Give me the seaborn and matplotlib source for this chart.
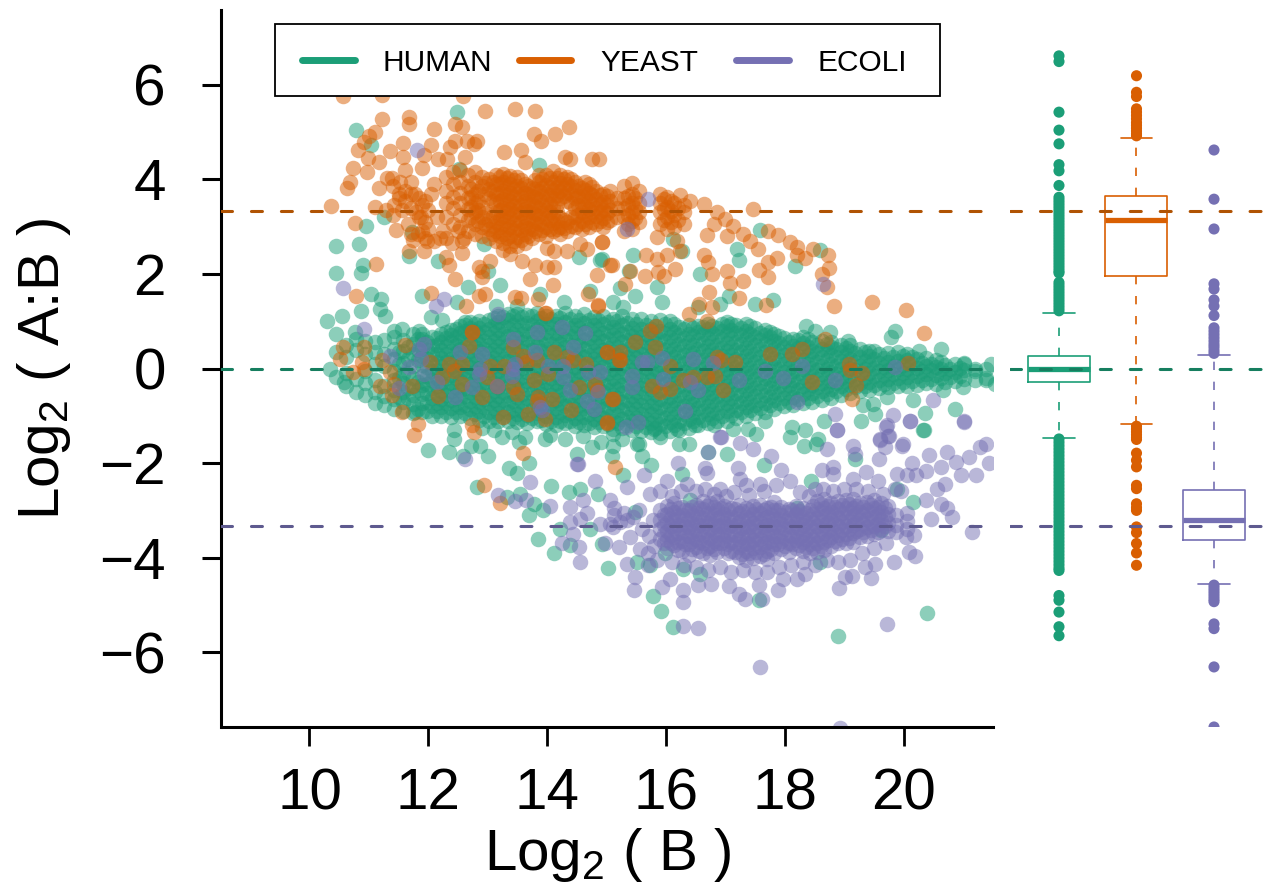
import matplotlib
matplotlib.use("Agg")
import matplotlib.pyplot as plt
from matplotlib.lines import Line2D
from matplotlib.patches import Rectangle
import seaborn as sns
import pandas as pd

GRUPOS = ["HUMAN", "YEAST", "ECOLI"]
CORES = ["#1B9E77", "#D95F02", "#7570B3"]
CORES_LINHA = ["#167E5F", "#B05303", "#5E5A8F"]

# expected log ratios (dashed lines)
razoes = [0, 3.32, -3.32]

# dense clouds: x value -> y values read at that x
human_core = {
    10.62: [-.36, -.1, .25, .5],
    10.78: [-.5, -.22, .4, .62],
    10.94: [-.55, -.3, -.05, .3, .58],
    11.1: [-.72, -.5, -.25, .1, .35, .55],
    11.26: [-.78, -.58, -.36, .05, .3, .6],
    11.42: [-.85, -.65, -.45, -.25, -.05, .2, .42, .66],
    11.58: [-.9, -.7, -.5, -.3, -.12, .12, .36, .6],
    11.74: [-.95, -.75, -.56, -.38, -.2, .05, .3, .52, .72],
    11.9: [-.92, -.72, -.54, -.34, -.16, .08, .26, .44, .62, .74],
    12.06: [-1.0, -.8, -.62, -.42, -.24, -.06, .12, .3, .48, .66],
    12.22: [-1.0, -.82, -.64, -.47, -.3, -.12, .05, .22, .4, .57, .72],
    12.38: [-1.02, -.84, -.66, -.48, -.3, -.13, .04, .21, .38, .55, .7, .82],
    12.54: [-1.0, -.82, -.63, -.45, -.27, -.1, .08, .25, .42, .58, .75, .9],
    12.7: [-1.05, -.86, -.68, -.5, -.32, -.14, .03, .2, .37, .54, .7, .86, .98],
    12.86: [-1.08, -.9, -.7, -.52, -.34, -.16, .02, .18, .36, .52, .7, .86, 1.0],
    13.02: [-1.1, -.92, -.74, -.56, -.38, -.2, -.03, .15, .32, .5, .66, .83, 1.02],
    13.18: [-1.12, -.94, -.76, -.58, -.4, -.22, -.05, .12, .3, .47, .64, .81, .98, 1.1],
    13.34: [-1.1, -.92, -.74, -.55, -.38, -.2, -.02, .16, .33, .5, .68, .85, 1.02, 1.15],
    13.5: [-1.14, -.96, -.78, -.6, -.42, -.24, -.06, .12, .3, .47, .64, .82, 1.0, 1.15],
    13.66: [-1.16, -.98, -.8, -.62, -.44, -.26, -.08, .1, .27, .45, .62, .8, .97, 1.14],
    13.82: [-1.12, -.94, -.76, -.58, -.4, -.22, -.04, .14, .31, .48, .66, .83, 1.0, 1.18],
    13.98: [-1.18, -1.0, -.82, -.64, -.46, -.28, -.1, .08, .25, .42, .6, .78, .95, 1.12],
    14.14: [-1.2, -1.02, -.84, -.66, -.48, -.3, -.12, .06, .24, .41, .58, .76, .94, 1.12],
    14.3: [-1.16, -.98, -.8, -.62, -.44, -.26, -.08, .1, .27, .45, .63, .8, .98, 1.18],
    14.46: [-1.22, -1.04, -.86, -.68, -.5, -.32, -.14, .04, .22, .4, .57, .75, .93, 1.1],
    14.62: [-1.2, -1.02, -.84, -.66, -.48, -.3, -.12, .06, .24, .42, .6, .78, .96, 1.16],
    14.78: [-1.24, -1.06, -.88, -.7, -.52, -.34, -.16, .02, .2, .38, .56, .74, .92, 1.08],
    14.94: [-1.22, -1.04, -.86, -.68, -.5, -.32, -.14, .04, .22, .4, .58, .76, .94, 1.12],
    15.1: [-1.28, -1.1, -.92, -.74, -.56, -.38, -.2, -.02, .16, .34, .52, .7, .88, 1.05],
    15.26: [-1.25, -1.06, -.88, -.7, -.52, -.34, -.16, .02, .2, .38, .56, .74, .92, 1.1],
    15.42: [-1.3, -1.12, -.94, -.76, -.58, -.4, -.22, -.04, .14, .32, .5, .68, .86, 1.04],
    15.58: [-1.32, -1.14, -.96, -.78, -.6, -.42, -.24, -.06, .12, .3, .48, .66, .84, 1.05],
    15.74: [-1.34, -1.15, -.97, -.79, -.61, -.43, -.25, -.07, .11, .29, .47, .65, .83, 1.0],
    15.9: [-1.36, -1.18, -1.0, -.82, -.64, -.46, -.28, -.1, .08, .26, .44, .62, .8, 1.02],
    16.06: [-1.32, -1.14, -.96, -.78, -.6, -.42, -.24, -.06, .12, .3, .48, .66, .84, 1.0],
    16.22: [-1.3, -1.1, -.92, -.74, -.56, -.38, -.2, -.02, .16, .34, .52, .7, .88],
    16.38: [-1.25, -1.06, -.88, -.7, -.52, -.34, -.16, .02, .2, .38, .56, .74, .92],
    16.54: [-1.2, -1.02, -.84, -.66, -.48, -.3, -.12, .06, .24, .42, .6, .78, .9],
    16.7: [-1.15, -.97, -.79, -.61, -.43, -.25, -.07, .11, .29, .47, .65, .83, .95],
    16.86: [-1.12, -.94, -.76, -.58, -.4, -.22, -.04, .14, .32, .5, .68, .86],
    17.02: [-1.1, -.9, -.72, -.54, -.36, -.18, 0, .18, .36, .54, .72, .9, .98],
    17.18: [-1.05, -.87, -.69, -.51, -.33, -.15, .03, .21, .39, .57, .75, .92],
    17.34: [-1.0, -.82, -.64, -.46, -.28, -.1, .08, .26, .44, .62, .8, .95],
    17.5: [-.95, -.77, -.59, -.41, -.23, -.05, .13, .31, .49, .67, .85],
    17.66: [-.92, -.74, -.56, -.38, -.2, -.02, .16, .34, .52, .7, .82],
    17.82: [-.85, -.67, -.49, -.31, -.13, .05, .23, .41, .59, .72],
    17.98: [-.8, -.62, -.44, -.26, -.08, .1, .28, .46, .64],
    18.14: [-.78, -.6, -.42, -.24, -.06, .12, .3, .48, .62],
    18.3: [-.72, -.54, -.36, -.18, 0, .18, .36, .54, .66],
    18.46: [-.7, -.52, -.34, -.16, .02, .2, .38, .56],
    18.62: [-.66, -.48, -.3, -.12, .06, .24, .42, .58],
    18.78: [-.62, -.44, -.26, -.08, .1, .28, .46, .56],
    18.94: [-.56, -.38, -.2, -.02, .16, .34, .5],
    19.1: [-.52, -.34, -.16, .02, .2, .38, .5],
    19.26: [-.48, -.3, -.12, .06, .24, .42],
    19.42: [-.46, -.28, -.1, .08, .26, .38],
    19.58: [-.42, -.24, -.06, .12, .3],
    19.74: [-.4, -.22, -.04, .14, .32],
    19.9: [-.38, -.2, -.02, .16, .34],
    20.06: [-.36, -.18, 0, .18, .3],
    20.22: [-.34, -.16, .02, .2],
    20.38: [-.3, -.12, .06, .22],
    20.54: [-.32, -.14, .04, .18],
    20.7: [-.28, -.1, .08],
    20.86: [-.26, -.08, .1],
    21.02: [-.22, -.04, .12],
    21.2: [-.24, -.06],
    21.38: [-.2, -.02],
}

# second pass over the band, between the columns above
human_core2 = {
    11.5: [-.6, -.2, .1, .35],
    11.66: [-.62, -.42, -.1, .2, .45],
    11.82: [-.85, -.46, -.28, .18, .4, .62],
    11.98: [-.9, -.7, -.52, -.33, -.15, .03, .21, .39, .57],
    12.14: [-.9, -.72, -.53, -.38, -.21, -.03, .14, .31, .49, .64],
    12.3: [-.92, -.74, -.56, -.38, -.21, -.04, .13, .3, .47, .64, .78],
    12.46: [-.93, -.75, -.57, -.39, -.21, -.03, .15, .33, .5, .67, .83],
    12.62: [-.95, -.77, -.59, -.41, -.23, -.05, .12, .29, .46, .63, .8, .93],
    12.78: [-.97, -.79, -.61, -.43, -.25, -.07, .11, .28, .45, .62, .79, .95],
    12.94: [-1.0, -.82, -.64, -.46, -.28, -.1, .08, .25, .42, .59, .77, .94],
    13.1: [-1.02, -.84, -.66, -.48, -.3, -.12, .05, .22, .4, .58, .75, .92, 1.06],
    13.26: [-1.03, -.85, -.67, -.49, -.31, -.13, .04, .21, .39, .56, .73, .9, 1.08],
    13.42: [-1.05, -.87, -.69, -.51, -.33, -.15, .03, .2, .38, .56, .74, .92, 1.1],
    13.58: [-1.07, -.89, -.71, -.53, -.35, -.17, .01, .19, .37, .55, .73, .91, 1.08],
    13.74: [-1.05, -.87, -.69, -.51, -.33, -.15, .03, .21, .39, .57, .75, .93, 1.1],
    13.9: [-1.08, -.9, -.72, -.54, -.36, -.18, 0, .18, .36, .54, .72, .9, 1.07],
    14.06: [-1.1, -.92, -.74, -.56, -.38, -.2, -.02, .16, .34, .52, .7, .88, 1.05],
    14.22: [-1.1, -.92, -.74, -.56, -.38, -.2, -.02, .16, .34, .52, .7, .88, 1.06],
    14.38: [-1.12, -.94, -.76, -.58, -.4, -.22, -.04, .14, .32, .5, .68, .86, 1.04],
    14.54: [-1.13, -.95, -.77, -.59, -.41, -.23, -.05, .13, .31, .49, .67, .85, 1.03],
    14.7: [-1.15, -.97, -.79, -.61, -.43, -.25, -.07, .11, .29, .47, .65, .83, 1.02],
    14.86: [-1.14, -.96, -.78, -.6, -.42, -.24, -.06, .12, .3, .48, .66, .84, 1.02],
    15.02: [-1.18, -1.0, -.82, -.64, -.46, -.28, -.1, .08, .26, .44, .62, .8, .98],
    15.18: [-1.16, -.98, -.8, -.62, -.44, -.26, -.08, .1, .28, .46, .64, .82, 1.0],
    15.34: [-1.2, -1.02, -.84, -.66, -.48, -.3, -.12, .06, .24, .42, .6, .78, .96],
    15.5: [-1.22, -1.04, -.86, -.68, -.5, -.32, -.14, .04, .22, .4, .58, .76, .94],
    15.66: [-1.24, -1.06, -.88, -.7, -.52, -.34, -.16, .02, .2, .38, .56, .74, .92],
    15.82: [-1.26, -1.08, -.9, -.72, -.54, -.36, -.18, 0, .18, .36, .54, .72, .9],
    15.98: [-1.22, -1.04, -.86, -.68, -.5, -.32, -.14, .04, .22, .4, .58, .76, .94],
    16.14: [-1.2, -1.02, -.84, -.66, -.48, -.3, -.12, .06, .24, .42, .6, .78, .95],
    16.3: [-1.15, -.97, -.79, -.61, -.43, -.25, -.07, .11, .29, .47, .65, .83],
    16.46: [-1.12, -.94, -.76, -.58, -.4, -.22, -.04, .14, .32, .5, .68, .85],
    16.62: [-1.08, -.9, -.72, -.54, -.36, -.18, 0, .18, .36, .54, .72, .88],
    16.78: [-1.05, -.87, -.69, -.51, -.33, -.15, .03, .21, .39, .57, .75, .9],
    16.94: [-1.0, -.82, -.64, -.46, -.28, -.1, .08, .26, .44, .62, .8, .94],
    17.1: [-.98, -.8, -.62, -.44, -.26, -.08, .1, .28, .46, .64, .82, .95],
    17.26: [-.92, -.74, -.56, -.38, -.2, -.02, .16, .34, .52, .7, .86],
    17.42: [-.88, -.7, -.52, -.34, -.16, .02, .2, .38, .56, .74, .9],
    17.58: [-.84, -.66, -.48, -.3, -.12, .06, .24, .42, .6, .76],
    17.74: [-.78, -.6, -.42, -.24, -.06, .12, .3, .48, .66, .78],
    17.9: [-.72, -.54, -.36, -.18, 0, .18, .36, .54, .68],
    18.06: [-.7, -.52, -.34, -.16, .02, .2, .38, .56],
    18.22: [-.64, -.46, -.28, -.1, .08, .26, .44, .6],
    18.38: [-.62, -.44, -.26, -.08, .1, .28, .46, .62],
    18.54: [-.58, -.4, -.22, -.04, .14, .32, .5],
    18.7: [-.54, -.36, -.18, 0, .18, .36, .52],
    18.86: [-.48, -.3, -.12, .06, .24, .42],
    19.02: [-.44, -.26, -.08, .1, .28, .44],
    19.18: [-.4, -.22, -.04, .14, .32],
    19.34: [-.38, -.2, -.02, .16, .34],
    19.5: [-.34, -.16, .02, .2, .36],
    19.66: [-.32, -.14, .04, .22],
    19.82: [-.3, -.12, .06, .24],
    19.98: [-.28, -.1, .08, .26],
    20.14: [-.26, -.08, .1, .24],
    20.3: [-.24, -.06, .12],
    20.46: [-.22, -.04, .1],
    20.62: [-.2, -.02, .14],
    20.78: [-.18, 0],
    20.94: [-.16, .02],
}

# loose human points away from the band
human_x = [10.79, 12.48, 11.04, 13.87, 12.51, 10.95, 11.25, 10.44, 10.84, 10.9, 10.86, 10.45, 11.68, 11.73, 12.17,
           12.93, 14.53, 14.88, 13.01, 12.67, 13.2, 11.04, 11.21, 11.18, 11.27, 10.87, 10.55, 10.29, 11.9, 12.05,
           12.23, 12.48, 12.62, 13.13, 13.5, 13.88, 14.29, 14.72, 10.44, 10.77, 11.42, 11.56, 11.85, 15.45, 14.92,
           16.26, 16.12, 17.58, 17.19, 17.23, 18.17, 18.59, 16.57, 15.38, 15.23, 15.84, 15.48, 15.93, 15.11, 15.28,
           16.91, 17.05, 17.5, 17.8, 16.54, 18.36, 18.5, 18.76, 19.85, 19.79, 20.63, 20.26, 19.06, 21.02, 21.19,
           21.47, 21.39, 21.53, 20.66, 21.0, 20.16, 19.71, 20.86, 20.35, 20.32, 19.51, 19.28, 19.32, 19.48, 18.11,
           18.66, 18.34, 18.56, 16.8, 17.13, 17.38, 17.66, 17.52, 16.49, 16.18, 15.79, 15.11, 14.75, 14.5, 15.09,
           15.11, 15.51, 15.59, 15.74, 15.28, 14.36, 14.85, 14.55, 16.26, 16.71, 16.21, 16.39, 17.02, 17.64, 18.08,
           18.32, 18.53, 20.34, 19.17, 18.44, 19.88, 20.16, 14.72, 14.39, 14.92, 15.03, 15.51, 15.73, 15.78, 15.92,
           16.12, 15.98, 17.57, 18.9, 20.39, 15.48, 16.4, 18.2, 19.62, 16.29, 16.57, 18.59, 10.35, 10.44, 10.58,
           10.44, 11.78, 12.0, 12.34, 12.58, 12.71, 12.87, 13.0, 12.43, 12.43, 13.24, 13.52, 13.63, 13.97,
           13.35, 13.49, 13.7, 12.82, 13.33, 13.55, 13.77, 13.69, 13.93, 14.06, 14.21,
           13.84, 14.12, 14.05, 14.3, 14.6, 14.9, 15.25, 15.55, 15.9, 13.1, 13.4, 12.9]
human_y = [5.04, 5.42, 4.73, 4.3, 4.22, 3.01, 3.2, 2.6, 2.63, 2.19, 2.01, 2.01, 2.37, 2.88, 2.28,
           2.64, 2.35, 2.3, 2.07, 1.73, 1.77, 1.58, 1.47, 1.26, 1.12, 1.21, 1.1, 1.0, 1.54, 1.09,
           1.03, 1.4, .98, 1.33, 1.33, 1.58, 1.4, 1.63, .73, .77, .8, .84, .8, 2.41, 2.32,
           2.49, 2.74, 2.92, 2.53, 2.3, 2.16, 2.5, 2.0, 2.07, 1.7, 1.72, 1.54, 1.4, 1.4, 1.3,
           1.37, 1.54, 1.37, 1.44, 1.3, .9, .8, .77, .8, .66, .42, .38, .59, .1, 0,
           .1, -.25, -.32, -.46, -.39, -.66, -.6, -.85, -.94, -1.29, -.96, -1.1, -.78, -.75, -1.24,
           -1.11, -1.31, -1.49, -1.2, -1.27, -1.27, -1.1, -1.38, -1.2, -1.27, -1.27, -1.38, -1.66, -1.8, -1.84,
           -1.63, -1.59, -1.84, -2.05, -2.26, -2.61, -2.66, -2.54, -2.23, -1.77, -1.59, -1.59, -1.8, -2.05, -1.45,
           -1.63, -1.59, -1.29, -1.91, -2.37, -2.54, -2.82, -3.39, -3.74, -3.72, -4.22, -4.09, -4.16, -4.8, -5.13,
           -5.46, -3.9, -4.9, -5.66, -5.17, -3.03, -2.79, -2.96, -3.42, -4.23, -4.34, -4.09, 0, -.17, -.29,
           .35, -.91, -1.72, -1.77, -1.86, -1.63, -1.63, -1.86, -1.31, -1.49, -1.45, -1.56, -1.45, -1.49,
           -2.1, -2.21, -2.0, -2.51, -2.72, -2.65, -2.86, -3.1, -3.0, -2.49, -3.39,
           -3.61, -3.9, -1.4, -1.5, -1.42, -1.55, -1.5, -1.6, -1.45, -1.3, -1.35, -1.25]

yeast_core = {
    12.3: [3.2, 3.5, 3.75, 4.05],
    12.42: [3.05, 3.4, 3.62, 3.9, 4.15],
    12.54: [3.0, 3.25, 3.5, 3.72, 3.95, 4.2],
    12.66: [2.9, 3.15, 3.38, 3.6, 3.85, 4.1],
    12.78: [2.85, 3.05, 3.3, 3.5, 3.7, 3.95, 4.15],
    12.9: [2.8, 3.0, 3.2, 3.42, 3.85, 4.05],
    13.02: [2.75, 2.95, 3.15, 3.6, 3.8, 4.0],
    13.14: [2.7, 2.9, 3.1, 3.3, 3.5, 3.7, 3.9, 4.1],
    13.26: [2.65, 2.85, 3.05, 3.22, 3.4, 3.58, 3.76, 3.95, 4.12],
    13.38: [2.6, 2.8, 3.0, 3.2, 3.38, 3.55, 3.72, 3.9, 4.08],
    13.5: [2.6, 2.78, 2.98, 3.15, 3.32, 3.5, 3.68, 3.85, 4.05],
    13.62: [2.65, 2.85, 3.02, 3.2, 3.38, 3.55, 3.72, 3.9],
    13.74: [2.75, 2.95, 3.12, 3.3, 3.48, 3.65, 3.82],
    13.86: [2.85, 3.05, 3.22, 3.4, 3.58, 3.75, 3.95, 4.1],
    13.98: [2.8, 3.0, 3.18, 3.35, 3.52, 3.7, 3.88, 4.1],
    14.1: [2.9, 3.08, 3.25, 3.42, 3.6, 3.78, 3.95, 4.18],
    14.22: [2.85, 3.0, 3.18, 3.6, 3.75, 3.92, 4.1],
    14.34: [2.9, 3.1, 3.55, 3.72, 3.9, 4.05],
    14.46: [3.0, 3.2, 3.4, 3.6, 3.78, 3.95],
    14.58: [2.95, 3.12, 3.3, 3.48, 3.65, 3.82],
    14.7: [3.0, 3.2, 3.38, 3.55, 3.72, 3.9],
    14.82: [3.05, 3.22, 3.4, 3.58, 3.75],
    14.94: [3.0, 3.18, 3.35, 3.52, 3.7],
    15.06: [3.15, 3.35, 3.55, 3.75],
    15.3: [2.9, 3.2, 3.4, 3.6, 3.85],
    15.42: [2.95, 3.12, 3.3, 3.5, 3.7, 3.92],
    15.54: [3.1, 3.3, 3.5, 3.75],
    15.9: [3.05, 3.3, 3.5, 3.7],
    16.02: [2.95, 3.2, 3.42, 3.62],
    16.14: [3.0, 3.25, 3.5],
    16.3: [3.05, 3.3, 3.45],
}

yeast_core2 = {
    12.72: [3.2, 3.42, 3.62, 3.8],
    12.84: [3.12, 3.35, 3.55, 3.75],
    12.96: [3.05, 3.28, 3.7, 3.92],
    13.08: [2.85, 3.02, 3.22, 3.55, 3.75, 3.95],
    13.2: [2.8, 3.0, 3.18, 3.36, 3.54, 3.72, 3.9, 4.05],
    13.32: [2.75, 2.95, 3.12, 3.3, 3.48, 3.66, 3.84, 4.02],
    13.44: [2.7, 2.9, 3.08, 3.26, 3.44, 3.62, 3.8, 3.98],
    13.56: [2.72, 2.92, 3.1, 3.28, 3.46, 3.64, 3.82, 3.98],
    13.68: [2.8, 2.98, 3.16, 3.34, 3.52, 3.7, 3.86],
    13.8: [2.9, 3.08, 3.26, 3.44, 3.62, 3.8, 3.98],
    13.92: [2.92, 3.1, 3.28, 3.46, 3.64, 3.82, 4.0],
    14.04: [2.95, 3.13, 3.3, 3.48, 3.66, 3.84, 4.02],
    14.16: [2.95, 3.12, 3.3, 3.48, 3.66, 3.84, 4.02],
    14.28: [2.98, 3.14, 3.65, 3.82, 4.0],
    14.4: [3.02, 3.2, 3.5, 3.68, 3.85, 4.0],
    14.52: [3.05, 3.25, 3.45, 3.65, 3.85],
    14.64: [3.05, 3.25, 3.42, 3.6, 3.78, 3.95],
    14.76: [3.1, 3.3, 3.48, 3.66, 3.84],
    14.88: [3.12, 3.3, 3.48, 3.66],
    15.0: [3.1, 3.28, 3.46, 3.64],
    15.18: [3.2, 3.4, 3.6],
    15.36: [3.05, 3.25, 3.45, 3.65],
    15.48: [3.18, 3.4, 3.6],
    15.96: [3.15, 3.38, 3.58],
    16.08: [3.1, 3.32, 3.55],
    16.2: [3.15, 3.4],
}

yeast_x = [10.57, 11.22, 12.59, 12.95, 13.46, 13.8, 11.22, 11.67, 11.67, 12.1, 12.45, 12.57, 14.37, 14.13, 13.78, 13.89,
           11.11, 11.0, 10.92, 10.81, 10.98, 11.17, 11.35, 11.57, 11.57, 12.04, 11.92, 12.36, 12.45, 12.65, 12.76, 12.82,
           12.16, 12.31, 12.61, 13.28, 13.56, 13.62, 14.3, 14.39, 14.75, 14.87, 10.73, 10.97, 11.6, 11.89, 11.3, 11.39,
           10.69, 10.63, 11.17, 11.53, 11.7, 10.36, 11.1, 10.76, 11.46, 11.67, 11.12, 11.93, 12.3, 12.34, 12.57, 12.45,
           12.85, 12.9, 12.91, 13.03, 13.57, 13.8, 13.99, 14.12, 13.71, 14.09, 14.83, 15.06, 10.79, 12.04, 12.85, 12.96,
           13.46, 13.56, 13.85, 14.69, 14.85, 12.63, 13.98, 12.73, 11.98, 12.2, 12.57, 13.25, 13.37, 14.0, 14.11, 14.33,
           14.55, 14.67, 14.92, 11.6, 11.78, 11.95, 11.5, 11.28, 11.4, 11.85, 12.0, 11.65, 11.82,
           11.4, 11.5, 11.6, 11.7, 11.8, 11.88, 11.95, 11.55, 11.42, 11.7, 11.85, 11.9, 12.0, 12.05, 12.1, 12.15, 11.9,
           11.95, 12.1, 11.7, 11.75, 12.25, 12.3, 12.4, 12.6, 12.5,
           17.47, 16.23, 16.4, 16.63, 16.85, 16.99, 17.13, 17.3, 17.41, 17.55, 17.72, 17.89, 18.08, 18.2, 18.2, 18.34,
           18.48, 18.73, 18.74, 18.63, 18.7, 18.82, 19.46, 20.03, 20.34, 16.68, 16.8, 17.02, 16.63, 16.71, 16.77, 17.02,
           17.07, 17.29, 16.72, 17.23, 16.78, 16.55, 16.39, 16.68, 17.56, 17.72, 17.87, 17.72, 17.68, 15.65, 15.39, 15.09,
           15.31, 15.87, 15.97, 16.15, 15.67, 15.84, 16.01, 16.23, 16.18, 15.84, 14.92, 15.0, 15.23, 15.23, 15.47, 15.81,
           15.73, 15.83, 16.07, 15.76, 15.9, 16.07, 15.11, 15.0, 16.29, 16.46, 16.68, 16.82, 16.85, 16.93, 17.16, 16.96,
           17.75, 18.11, 18.28, 18.46, 18.67, 19.08, 19.09, 19.3, 19.2, 19.13, 20.07, 10.57, 10.52, 10.91, 10.88, 10.74,
           10.91, 11.19, 11.42, 11.73, 11.22, 11.6, 11.36, 11.39, 11.56, 11.82, 11.76, 12.03, 12.17, 12.34, 12.43, 12.23,
           12.57, 12.57, 12.73, 12.69, 12.9, 13.04, 13.27, 12.99, 13.15, 13.43, 13.6, 13.43, 13.49, 13.25, 12.73, 12.76,
           13.59, 12.93, 13.21, 13.67, 13.65, 13.83, 13.77, 13.85, 13.82, 13.97, 14.08, 14.02, 14.11, 14.33, 14.44, 14.66,
           14.54, 14.8, 14.83, 14.4, 15.0, 15.0, 15.09, 15.2, 15.14, 13.97, 14.85]
yeast_y = [5.77, 5.79, 5.77, 5.45, 5.49, 5.45, 5.27, 5.32, 5.17, 5.06, 5.18, 5.1, 5.11, 4.96, 4.96, 4.82,
           5.01, 4.92, 4.78, 4.63, 4.45, 4.37, 4.59, 4.76, 4.47, 4.73, 4.52, 4.68, 4.8, 4.8, 4.75, 4.82,
           4.43, 4.43, 4.48, 4.57, 4.62, 4.36, 4.47, 4.43, 4.43, 4.42, 4.24, 4.15, 4.2, 4.24, 4.03, 4.03,
           3.94, 3.82, 3.82, 3.94, 3.94, 3.44, 3.41, 3.08, 2.92, 2.49, 2.2, 2.48, 2.35, 2.18, 2.44, 1.9,
           2.14, 2.07, 1.93, 2.28, 2.27, 2.18, 2.14, 2.15, 1.9, 1.77, 1.98, 2.18, 1.54, 1.6, 1.54, 1.58,
           1.52, 1.49, 1.47, 1.58, 1.35, 1.32, 1.18, .77, 2.7, 2.76, 2.7, 2.5, 2.42, 2.55, 2.48, 2.48,
           2.63, 2.52, 2.67, 3.75, 3.7, 3.55, 3.6, 3.35, 3.25, 3.2, 2.95, 3.05, 2.85,
           3.85, 3.7, 3.55, 3.4, 3.3, 3.2, 3.1, 3.35, 3.45, 3.7, 3.6, 3.45, 3.35, 3.7, 3.9, 3.2, 2.9,
           2.75, 2.7, 2.85, 2.72, 2.9, 2.75, 2.65, 2.75, 2.9,
           3.37, 3.66, 3.55, 3.48, 3.3, 3.16, 3.02, 2.85, 2.7, 2.53, 2.9, 2.83, 2.68, 2.56, 2.39, 2.34,
           2.53, 2.39, 2.13, 2.0, 1.73, 1.33, 1.4, 1.23, .75, 2.83, 3.06, 2.81, 2.41, 2.25, 2.0, 2.06,
           1.8, 1.86, 1.61, 1.49, 1.31, 1.37, 1.15, 1.0, 2.09, 2.26, 2.34, 1.93, 1.35, 1.96, 2.06, 2.18,
           1.79, 2.04, 1.96, 2.11, 2.39, 2.32, 2.39, 2.49, 2.7, 2.78, 2.67, .35, .35, .17, .56, .45,
           .8, .89, .05, -.36, -.5, -.43, -.64, -1.13, -.25, -.18, -.18, -.15, .24, .17, .13, -.45,
           .31, .31, .42, -.29, .63, .1, -.03, -.1, -.34, -.64, .12, .45, .2, .45, .13, -.08,
           -.01, -.37, -.32, -.36, .18, .5, -.08, -.57, -.92, -1.17, -1.4, .13, -.58, .1, -.06, -.18,
           .1, -.32, .77, .47, -.6, .06, .06, -.18, -.38, .45, .27, -.39, -.54, -1.03, -1.2, -1.35,
           -1.79, -2.47, -2.84, -.96, .13, .17, -.25, -.61, -.68, -1.06, -.64, -.11, .35, .24, .17, .1,
           -.39, -.32, -.46, -.87, .35, -1.15, -.64, .17, -2.08, 1.17, 1.33]

ecoli_core = {
    15.9: [-3.0, -3.2, -3.4, -3.6],
    16.02: [-2.9, -3.08, -3.26, -3.44, -3.62, -3.8],
    16.14: [-2.85, -3.03, -3.2, -3.38, -3.56, -3.74],
    16.26: [-2.92, -3.1, -3.28, -3.46, -3.64, -3.85],
    16.38: [-3.0, -3.18, -3.36, -3.54, -3.72, -3.95],
    16.5: [-2.88, -3.06, -3.24, -3.42, -3.6, -3.78],
    16.62: [-2.8, -2.98, -3.16, -3.34, -3.52, -3.7, -3.9],
    16.74: [-2.85, -3.05, -3.22, -3.4, -3.58, -3.76, -3.95],
    16.86: [-2.8, -2.98, -3.16, -3.34, -3.52, -3.7, -3.88],
    16.98: [-2.9, -3.08, -3.26, -3.44, -3.62, -3.8],
    17.1: [-2.95, -3.13, -3.31, -3.49, -3.67, -3.85],
    17.22: [-2.88, -3.06, -3.24, -3.42, -3.6, -3.78, -3.98],
    17.34: [-2.95, -3.14, -3.32, -3.5, -3.68, -3.86, -4.05],
    17.46: [-2.9, -3.08, -3.26, -3.44, -3.62, -3.8, -4.0],
    17.58: [-2.88, -3.06, -3.24, -3.42, -3.6, -3.78, -3.96],
    17.7: [-2.95, -3.13, -3.31, -3.49, -3.67, -3.85, -4.02],
    17.82: [-2.82, -3.0, -3.18, -3.36, -3.54, -3.72, -3.9],
    17.94: [-2.92, -3.1, -3.28, -3.46, -3.64, -3.82],
    18.06: [-2.98, -3.16, -3.34, -3.52, -3.7, -3.88],
    18.18: [-2.9, -3.08, -3.26, -3.44, -3.62, -3.8],
    18.3: [-2.95, -3.13, -3.31, -3.49, -3.67, -3.85],
    18.42: [-3.0, -3.18, -3.36, -3.54, -3.72, -3.9],
    18.54: [-2.8, -2.98, -3.16, -3.34, -3.52, -3.7, -3.88],
    18.66: [-2.76, -2.94, -3.12, -3.3, -3.48, -3.66, -3.84],
    18.78: [-2.85, -3.03, -3.21, -3.39, -3.57, -3.75],
    18.9: [-2.8, -2.98, -3.16, -3.34, -3.52, -3.7],
    19.02: [-2.78, -2.96, -3.14, -3.32, -3.5, -3.68],
    19.14: [-2.76, -2.94, -3.12, -3.3, -3.48, -3.66],
    19.26: [-2.85, -3.03, -3.21, -3.39, -3.57],
    19.38: [-2.82, -3.0, -3.18, -3.36, -3.54],
    19.5: [-2.78, -2.96, -3.14, -3.32, -3.5],
    19.62: [-2.85, -3.03, -3.21, -3.39],
    19.74: [-2.9, -3.08, -3.26, -3.44],
    19.86: [-3.1, -3.3, -3.45],
    20.05: [-3.05, -3.22, -3.4],
}

ecoli_core2 = {
    15.96: [-3.1, -3.3, -3.5, -3.7],
    16.08: [-2.98, -3.16, -3.34, -3.52, -3.7],
    16.2: [-2.94, -3.12, -3.3, -3.48, -3.66, -3.84],
    16.32: [-3.0, -3.18, -3.36, -3.54, -3.72],
    16.44: [-2.92, -3.1, -3.28, -3.46, -3.64, -3.82],
    16.56: [-2.95, -3.13, -3.31, -3.49, -3.67, -3.85],
    16.68: [-2.9, -3.08, -3.26, -3.44, -3.62, -3.8],
    16.8: [-2.92, -3.1, -3.28, -3.46, -3.64, -3.82],
    16.92: [-2.96, -3.14, -3.32, -3.5, -3.68],
    17.04: [-3.0, -3.18, -3.36, -3.54, -3.72, -3.9],
    17.16: [-2.98, -3.16, -3.34, -3.52, -3.7, -3.88],
    17.28: [-3.02, -3.2, -3.38, -3.56, -3.74, -3.92],
    17.4: [-3.0, -3.18, -3.36, -3.54, -3.72, -3.9],
    17.52: [-2.98, -3.16, -3.34, -3.52, -3.7, -3.88],
    17.64: [-3.0, -3.18, -3.36, -3.54, -3.72, -3.92],
    17.76: [-2.92, -3.1, -3.28, -3.46, -3.64, -3.82],
    17.88: [-3.0, -3.18, -3.36, -3.54, -3.72],
    18.0: [-3.04, -3.22, -3.4, -3.58, -3.76],
    18.12: [-3.0, -3.18, -3.36, -3.54, -3.72],
    18.24: [-3.02, -3.2, -3.38, -3.56, -3.74],
    18.36: [-3.06, -3.24, -3.42, -3.6, -3.78],
    18.48: [-2.9, -3.08, -3.26, -3.44, -3.62, -3.8],
    18.6: [-2.86, -3.04, -3.22, -3.4, -3.58, -3.76],
    18.72: [-2.9, -3.08, -3.26, -3.44, -3.62],
    18.84: [-2.92, -3.1, -3.28, -3.46, -3.64],
    18.96: [-2.88, -3.06, -3.24, -3.42, -3.6],
    19.08: [-2.86, -3.04, -3.22, -3.4, -3.58],
    19.2: [-2.9, -3.08, -3.26, -3.44],
    19.32: [-2.92, -3.1, -3.28, -3.46],
    19.44: [-2.88, -3.06, -3.24, -3.42],
    19.56: [-2.92, -3.1, -3.28, -3.45],
    19.68: [-2.96, -3.14, -3.32],
}

ecoli_x = [11.81, 10.57, 12.26, 12.13, 13.18, 10.91, 11.36, 11.84, 11.93, 11.67, 11.87, 11.5, 11.92, 12.14, 12.45, 12.54,
           12.9, 12.87, 12.85, 12.73, 13.15, 13.43, 13.46, 13.43, 13.4, 13.83, 13.8, 14.02, 14.25, 14.64, 14.44, 14.27,
           14.27, 14.38, 14.67, 14.78, 14.86, 14.69, 14.89, 13.88, 13.91, 12.62, 14.51, 13.71, 13.18, 13.46, 13.65, 14.05,
           15.69, 15.34, 18.64, 15.6, 15.68, 15.93, 15.95, 15.42, 15.42, 16.46, 16.79, 16.4, 16.54, 17.22, 17.66,
           17.97, 18.29, 18.84, 18.21, 16.31, 19.85, 15.33, 15.53, 18.85, 18.87, 19.81, 20.1, 20.49, 21.02, 19.7, 19.6,
           19.75, 19.98, 16.93,
           14.5, 14.81, 14.39, 14.61, 14.67, 14.39, 14.55, 14.44, 14.25, 14.53, 14.55, 14.97, 15.06, 15.12, 14.89, 15.06,
           15.34, 15.39, 15.2, 15.56, 15.34, 15.7, 15.48, 15.46, 15.93, 16.29, 16.29, 16.28, 16.53, 16.07, 16.53, 16.76,
           17.05, 17.22, 17.33, 17.61, 17.57, 17.89, 17.97, 18.2, 18.34, 18.91, 19.01, 19.12, 19.44, 19.34, 19.51, 19.84,
           20.18, 20.09, 20.04, 20.17, 21.15, 20.46, 20.81, 20.72, 20.63, 20.38, 20.55, 20.69, 20.97, 21.22, 20.63, 20.38,
           20.13, 20.21, 19.88, 20.05, 20.88, 21.1, 21.44, 21.28, 21.39, 20.72, 20.43, 19.97, 19.58, 19.68, 19.74, 19.6,
           19.71, 20.1, 21.02, 19.15, 19.17, 18.7, 18.87, 18.81, 18.81, 18.62, 19.36, 19.15, 19.57, 19.96, 19.85, 17.76,
           17.93, 17.21, 17.24, 16.91, 17.24, 17.46, 16.71, 16.65, 16.69, 16.2, 16.35, 16.02, 15.62, 15.34, 15.73, 16.91,
           17.34, 17.58, 17.85, 18.08, 18.25, 18.64, 17.58, 19.72, 18.92,
           15.12, 15.22, 15.3, 15.1, 15.45, 15.6, 15.72, 15.55, 15.78, 15.8, 15.7, 15.85, 16.1, 16.3, 16.5, 16.7, 16.9, 17.1,
           17.3, 17.5, 17.7, 17.9, 18.1, 18.3, 18.5, 18.7, 18.9, 19.1, 19.3, 19.5, 19.7, 15.9, 16.1, 16.25, 16.5, 16.65, 16.8,
           17.0, 17.15, 17.4, 17.65, 18.4, 18.5, 18.8, 19.0, 19.2, 19.4, 19.65]
ecoli_y = [4.63, 1.7, 1.47, 1.33, 1.16, .84, .27, .42, .52, .03, .2, -.41, -.11, -.29, -.61, .35,
           .31, -.01, -.11, -.39, -.38, .63, .1, -.01, -.15, .77, .35, .06, .87, .75, .45, .06,
           -.18, -.46, -.68, -.85, -.5, -.08, -.08, -.82, -.88, -1.91, -2.01, -2.4, -2.67, -2.81, -2.79, -2.9,
           3.58, 2.94, 1.79, .13, .13, .22, -.22, -.15, -.39, .2, .11, -.29, -.46, -.24, -.06,
           -.2, .05, -.25, -.71, -.89, .04, -1.24, -1.13, -.97, -1.31, -.98, -1.1, -.66, -1.1, -1.23, -1.5,
           -1.43, -1.6, -1.45,
           -2.01, -2.37, -2.93, -2.77, -3.06, -3.25, -3.18, -3.49, -3.7, -3.78, -4.09, -3.7, -2.79, -2.96, -3.28, -3.28,
           -3.2, -3.56, -3.78, -3.81, -4.13, -4.16, -4.41, -4.68, -4.62, -4.69, -4.94, -5.45, -5.48, -4.46, -4.58, -4.55,
           -4.6, -4.76, -4.88, -4.87, -4.58, -4.69, -4.46, -4.46, -4.34, -4.65, -4.4, -4.39, -4.42, -4.2, -4.13, -4.1,
           -3.97, -3.88, -3.56, -3.53, -3.46, -3.18, -3.14, -2.94, -2.86, -2.79, -2.54, -2.44, -2.26, -2.26, -2.09, -2.16,
           -2.0, -2.26, -2.23, -2.26, -1.98, -1.87, -2.0, -1.66, -1.6, -1.77, -1.82, -1.63, -1.91, -1.65, -1.42, -1.52,
           -1.2, -1.1, -1.13, -1.63, -1.8, -1.7, -1.31, -2.08, -2.23, -2.15, -2.19, -2.33, -2.37, -2.58, -2.55, -1.86,
           -2.14, -2.1, -2.33, -1.45, -1.57, -1.7, -1.77, -2.1, -2.2, -2.0, -2.44, -2.37, -2.26, -2.5, -2.65, -2.54,
           -2.47, -2.44, -2.47, -2.37, -2.61, -2.54, -6.31, -5.41, -7.61,
           -3.1, -3.25, -3.05, -3.35, -3.15, -3.4, -3.55, -3.0, -3.2, -3.75, -3.9, -4.05, -4.1, -4.15, -4.2, -4.25, -4.2, -4.3,
           -4.25, -4.3, -4.3, -4.2, -4.15, -4.1, -4.15, -4.05, -4.1, -4.05, -3.9, -3.8, -3.7, -2.6, -2.7, -2.6, -2.6, -2.55, -2.65,
           -2.7, -2.62, -2.68, -2.6, -2.7, -2.55, -2.6, -2.55, -2.55, -2.6, -2.65]

# five number summary of each group: low whisker, Q1, median, Q3, high whisker
resumo_human = [-1.47, -.28, 0, .26, 1.18]
resumo_yeast = [-1.18, 1.95, 3.13, 3.64, 4.88]
resumo_ecoli = [-4.56, -3.62, -3.2, -2.57, .29]

outliers_human = [6.61, 6.49, 5.42, 5.04, 4.75, 4.31, 4.18, 3.87, 3.62, 3.56, 3.5, 3.44, 3.38, 3.32, 3.26, 3.2, 3.14, 3.08,
                  3.02, 2.96, 2.9, 2.84, 2.78, 2.72, 2.66, 2.6, 2.54, 2.48, 2.42, 2.36, 2.3, 2.24, 2.18, 2.12, 2.06, 2.02,
                  1.82, 1.76, 1.7, 1.64, 1.58, 1.52, 1.46, 1.4, 1.34, 1.28, 1.22, -1.49, -1.56, -1.63, -1.7, -1.77, -1.84,
                  -1.91, -1.98, -2.05, -2.12, -2.19, -2.26, -2.33, -2.4, -2.47, -2.54, -2.61, -2.68, -2.75, -2.82, -2.89,
                  -2.96, -3.03, -3.1, -3.17, -3.24, -3.31, -3.38, -3.45, -3.52, -3.59, -3.66, -3.73, -3.8, -3.87, -3.94,
                  -4.01, -4.08, -4.15, -4.22, -4.27, -4.8, -4.9, -5.15, -5.46, -5.65]
outliers_yeast = [6.19, 5.84, 5.75, 5.49, 5.42, 5.35, 5.28, 5.2, 5.14, 5.08, 5.02, 4.96, 4.92, -1.22, -1.28, -1.34, -1.4,
                  -1.46, -1.5, -1.79, -1.94, -2.08, -2.47, -2.54, -2.86, -2.94, -3.0, -3.35, -3.47, -3.7, -3.9, -4.16]
outliers_ecoli = [4.62, 3.58, 2.95, 1.79, 1.68, 1.45, 1.32, 1.12, .86, .79, .72, .65, .58, .51, .45, .38, .32, -4.58, -4.64,
                  -4.7, -4.76, -4.82, -4.88, -4.93, -5.4, -5.5, -6.31, -7.58]


def monta(cores_densos, xs, ys):
    # joins the dense clouds with the loose points
    linhas = [(x, y) for core in cores_densos for x, lista in core.items() for y in lista] + list(zip(xs, ys))
    return pd.DataFrame(linhas, columns=["x", "y"])


sns.set_theme(style="white")
plt.rcParams["font.family"] = "Liberation Sans"
plt.rcParams["mathtext.default"] = "regular"
plt.rcParams["text.color"] = "black"
plt.rcParams["axes.labelcolor"] = "black"
plt.rcParams["xtick.color"] = "black"
plt.rcParams["ytick.color"] = "black"

fig = plt.figure(figsize=(12.65, 8.86), dpi=100)
ax = fig.add_axes([221.5 / 1265, 1 - 727 / 886, 771.5 / 1265, 717 / 886])
ax2 = fig.add_axes([1010 / 1265, 1 - 727 / 886, 255 / 1265, 717 / 886], sharey=ax)

# scatter, one layer per species
tabelas = [monta([human_core, human_core2], human_x, human_y),
           monta([yeast_core, yeast_core2], yeast_x, yeast_y),
           monta([ecoli_core, ecoli_core2], ecoli_x, ecoli_y)]
for tabela, cor in zip(tabelas, CORES):
    sns.scatterplot(data=tabela, x="x", y="y", color=cor, alpha=0.5, s=125, linewidth=0, ax=ax)

for razao, cor in zip(razoes, CORES_LINHA):
    for eixo in (ax, ax2):
        eixo.axhline(razao, color=cor, lw=2.2, linestyle=(0, (3.6, 6.2)), dash_capstyle="round", zorder=5)

ax.set_xlim(8.52, 21.5)
ax.set_ylim(-7.58, 7.58)
ax.set_xticks([10, 12, 14, 16, 18, 20])
ax.set_yticks([-6, -4, -2, 0, 2, 4, 6])
ax.tick_params(axis="y", labelsize=42, length=14, width=2.2, pad=26, left=True)
ax.tick_params(axis="x", labelsize=42, length=14, width=2, pad=15, bottom=True)
ax.set_xlabel("Log$_{2}$ ( B )", fontsize=42, labelpad=0)
ax.set_ylabel("Log$_{2}$ ( A:B )", fontsize=42)
ax.yaxis.set_label_coords(-(221.5 - 73) / 771.5, 0.5)
ax.xaxis.set_label_coords(0.5, -(826 - 727) / 717)
sns.despine(ax=ax)
for lado in ("left", "bottom"):
    ax.spines[lado].set_linewidth(2.2)
    ax.spines[lado].set_color("black")

# legend box, columns are evenly spaced in the original
fig.add_artist(Rectangle((274.5 / 1265, 1 - 96 / 886), 665.5 / 1265, 72 / 886, transform=fig.transFigure,
                         facecolor="white", edgecolor="black", linewidth=1.3, zorder=6))
for nome, cor, x0, x1, xt in zip(GRUPOS, CORES, [302, 519, 736], [355, 571, 789], [383, 600, 817]):
    fig.add_artist(Line2D([x0 / 1265, x1 / 1265], [1 - 60 / 886] * 2, color=cor, lw=5, solid_capstyle="round", zorder=7))
    fig.text(xt / 1265, 1 - 71 / 886, nome, fontsize=21.5, va="baseline", zorder=7)

# marginal boxes on the right
caixas = pd.DataFrame({"grupo": sum([[g] * 5 for g in GRUPOS], []),
                       "valor": resumo_human + resumo_yeast + resumo_ecoli})
pontos = pd.DataFrame({"grupo": ["HUMAN"] * len(outliers_human) + ["YEAST"] * len(outliers_yeast) + ["ECOLI"] * len(outliers_ecoli),
                       "valor": outliers_human + outliers_yeast + outliers_ecoli})
sns.boxplot(data=caixas, x="grupo", y="valor", hue="grupo", order=GRUPOS, hue_order=GRUPOS, palette=CORES, fill=False,
            whis=(0, 100), width=0.8, linewidth=1.2, fliersize=0, legend=False, ax=ax2, capwidths=0.41,
            medianprops={"linewidth": 3.8}, whiskerprops={"linestyle": (0, (5, 7))})
sns.stripplot(data=pontos, x="grupo", y="valor", hue="grupo", order=GRUPOS, hue_order=GRUPOS, palette=CORES, jitter=False,
              size=8, linewidth=0, legend=False, ax=ax2, zorder=3)
ax2.set_xlim(-0.632, 2.658)
ax2.axis("off")

fig.savefig("out.png", dpi=100)
